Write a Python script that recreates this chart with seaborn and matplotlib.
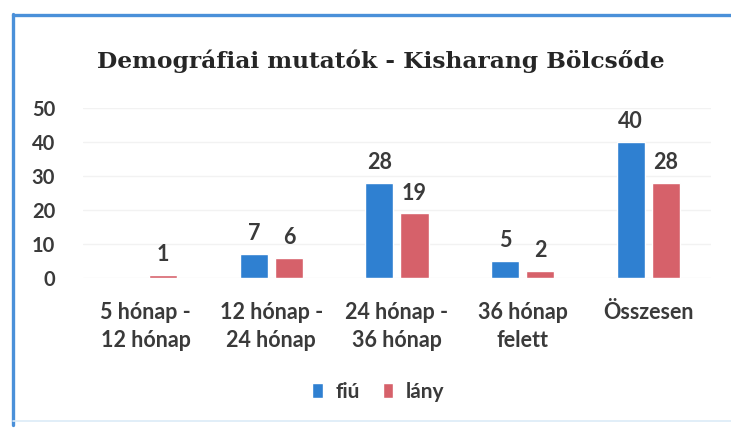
import pandas as pd
import matplotlib.pyplot as plt
import seaborn as sns
from matplotlib.lines import Line2D

# data
categories = ["5 hónap -\n12 hónap", "12 hónap -\n24 hónap", "24 hónap -\n36 hónap",
              "36 hónap\nfelett", "Összesen"]
fiu = [0, 7, 28, 5, 40]
lany = [1, 6, 19, 2, 28]
series_names = ["fiú", "lány"]
yticks = [0, 10, 20, 30, 40, 50]

df = pd.DataFrame({
    "kategoria": categories * 2,
    "fo": fiu + lany,
    "nem": [series_names[0]] * len(fiu) + [series_names[1]] * len(lany),
})

sns.set_theme(style="white")
plt.rcParams["font.family"] = ["Lato", "DejaVu Sans"]

text_col = "#3a3a3a"
fig = plt.figure(figsize=(7.31, 4.28), dpi=100)
ax = fig.add_axes([0.1135, 0.3505, 0.8591, 0.3972])

sns.barplot(data=df, x="kategoria", y="fo", hue="nem", ax=ax,
            palette=["#2F80D1", "#D6616A"], width=0.56, gap=0.2,
            saturation=1, legend=True)

# value labels, zeros left out
for cont in ax.containers:
    labels = [f"{v:.0f}" if v > 0 else "" for v in cont.datavalues]
    ax.bar_label(cont, labels=labels, padding=7, fontsize=15.5,
                 fontweight="bold", color=text_col)

ax.set_ylim(0, 50)
ax.set_xlim(-0.5, len(categories) - 0.5)
ax.set_yticks(yticks)
ax.set_xlabel("")
ax.set_ylabel("")
ax.yaxis.grid(True, color="#f2f2f2", lw=1)
ax.set_axisbelow(True)
sns.despine(ax=ax, left=True, bottom=True)
ax.tick_params(axis="y", length=0, pad=20, labelsize=14.5, labelcolor=text_col)
ax.tick_params(axis="x", length=0, pad=17, labelsize=15.5, labelcolor=text_col)
for lab in ax.get_yticklabels() + ax.get_xticklabels():
    lab.set_fontweight("bold")
for lab in ax.get_xticklabels():
    lab.set_linespacing(1.45)

leg = ax.legend(loc="center", bbox_to_anchor=(0.47, -0.67), ncol=2, frameon=False,
                handlelength=0.5, handleheight=0.7, handletextpad=0.6,
                columnspacing=1.1, fontsize=15)
for t in leg.get_texts():
    t.set_color(text_col)
    t.set_fontweight("bold")

fig.text(0.521, 0.858, "Demográfiai mutatók - Kisharang Bölcsőde",
         family="DejaVu Serif", fontsize=16.8, fontweight="bold", color="#262626",
         ha="center", va="center")

# blue frame of the chart box
fig.add_artist(Line2D([13 / 731, 13 / 731], [1 - 14 / 428, 1 - 425 / 428],
                      color="#4A90D9", lw=2.4))
fig.add_artist(Line2D([13 / 731, 1.0], [1 - 15 / 428, 1 - 15 / 428],
                      color="#4A90D9", lw=2.4))
fig.add_artist(Line2D([13 / 731, 1.0], [1 - 421 / 428, 1 - 421 / 428],
                      color="#DCEBF7", lw=1.2))

fig.savefig("out.png", dpi=100)
